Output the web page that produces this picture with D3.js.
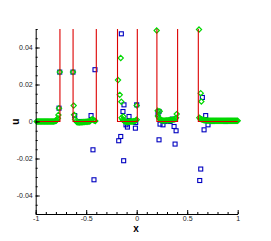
<!DOCTYPE html>
<html>
<head>
<meta charset="utf-8">
<script src="https://cdn.jsdelivr.net/npm/d3@7"></script>
<style>
  html, body { margin: 0; padding: 0; background: #fff; }
  svg { display: block; }
  text { font-family: "Liberation Sans", Arial, sans-serif; }
</style>
</head>
<body>
<svg id="chart" width="271" height="241"></svg>
<script>
// ---- data ----
const xTicks = [-1, -0.5, 0, 0.5, 1];
const xTickLabels = ["-1", "-0.5", "0", "0.5", "1"];
const yTicks = [-0.04, -0.02, 0, 0.02, 0.04];
const yTickLabels = ["-0.04", "-0.02", "0", "0.02", "0.04"];

// exact solution (red line); pulses rise beyond the top of the frame
const redX = [-1, -0.76, -0.76, -0.63, -0.63, -0.40, -0.40, -0.19, -0.19, 0.006, 0.006, 0.20, 0.20, 0.405, 0.405, 0.61, 0.61, 1];
const redY = [0, 0, 0.2, 0.2, 0, 0, 0.2, 0.2, 0, 0, 0.2, 0.2, 0, 0, 0.2, 0.2, 0, 0];

// green diamonds: dense near-zero band
const greenBandX = [
  -0.99, -0.98, -0.97, -0.96, -0.95, -0.94, -0.93, -0.92, -0.91, -0.90, -0.89, -0.88, -0.87, -0.86, -0.85, -0.84, -0.83, -0.82, -0.81, -0.80, -0.79, -0.78, -0.775,
  -0.62, -0.61, -0.60, -0.59, -0.58, -0.57, -0.56, -0.55, -0.54, -0.53, -0.52, -0.51, -0.50, -0.49, -0.48, -0.47, -0.46, -0.45, -0.44, -0.43, -0.42, -0.41,
  -0.15, -0.14, -0.13, -0.12, -0.11, -0.10, -0.09, -0.08, -0.07, -0.06, -0.05, -0.04, -0.03, -0.02, -0.01, 0.0,
  0.21, 0.22, 0.23, 0.24, 0.25, 0.26, 0.27, 0.28, 0.29, 0.30, 0.31, 0.32, 0.33, 0.34, 0.35, 0.36, 0.37, 0.38, 0.39,
  0.62, 0.63, 0.64, 0.65, 0.66, 0.67, 0.68, 0.69, 0.70, 0.71, 0.72, 0.73, 0.74, 0.75, 0.76, 0.77, 0.78, 0.79, 0.80,
  0.81, 0.82, 0.83, 0.84, 0.85, 0.86, 0.87, 0.88, 0.89, 0.90, 0.91, 0.92, 0.93, 0.94, 0.95, 0.96, 0.97, 0.98, 0.99, 1.0
];
const greenBandY = [
  0, 0, 0, 0, 0, 0, 0, 0, 0, 0, 0, 0, 0, 0, 0, 0, 0, 0, 0.0002, 0.0004, 0.0008, 0.0018, 0.0035,
  0.0036, 0.0012, 0.0002, -0.0004, -0.0005, -0.0006, -0.0005, -0.0004, -0.0004, -0.0003, -0.0003, -0.0002, -0.0002, -0.0001, 0, 0, 0.0003, 0.001, 0.0012, 0.0008, 0.0005, 0.0003,
  0.002, 0.001, 0.0005, 0.0002, 0, -0.0003, -0.0002, -0.0001, 0, 0, 0, 0, 0.0001, 0.0002, 0.0005, 0.001,
  0.003, 0.002, 0.0012, 0.0008, 0.0006, 0.0005, 0.0005, 0.0005, 0.0006, 0.0006, 0.0006, 0.0007, 0.0008, 0.0008, 0.0009, 0.001, 0.0011, 0.0013, 0.002,
  0.002, 0.0015, 0.0012, 0.001, 0.0008, 0.0007, 0.0006, 0.0005, 0.0005, 0.0005, 0.0004, 0.0004, 0.0004, 0.0004, 0.0004, 0.0004, 0.0004, 0.0004, 0.0004,
  0.0004, 0.0004, 0.0004, 0.0004, 0.0004, 0.0004, 0.0004, 0.0004, 0.0004, 0.0004, 0.0004, 0.0004, 0.0004, 0.0004, 0.0004, 0.0004, 0.0004, 0.0004, 0.0004, 0.0004
];
// green diamonds: scattered overshoots
const greenX = [-0.769, -0.762, -0.631, -0.624, -0.185, -0.158, -0.168, -0.152, -0.132, 0.0, 0.198, 0.208, 0.228, 0.396, 0.617, 0.634, 0.64];
const greenY = [0.0072, 0.0267, 0.0267, 0.0086, 0.0224, 0.0343, 0.0144, 0.0107, 0.0027, 0.0087, 0.0492, 0.0058, 0.0055, 0.004, 0.0497, 0.0153, 0.0108];

// blue squares
const blueX = [
  -0.90, -0.82, -0.56, -0.48, -0.10, -0.04, 0.28, 0.33, 0.75, 0.88,
  -0.769, -0.762, -0.631, -0.614, -0.452, -0.413, -0.433, -0.423,
  -0.152, -0.126, -0.136, -0.076, -0.092, -0.106, -0.013, -0.158, -0.178, -0.129, 0.0, -0.01,
  0.211, 0.221, 0.231, 0.26, 0.353, 0.37, 0.39, 0.221, 0.38,
  0.65, 0.683, 0.667, 0.706, 0.634, 0.624
];
const blueY = [
  0, 0, 0, 0, 0, 0, 0, 0, 0, 0,
  0.0072, 0.0267, 0.0267, 0.0032, 0.0032, 0.028, -0.0153, -0.0315,
  0.0474, 0.009, 0.0054, 0.0027, -0.003, -0.0018, -0.0036, -0.0081, -0.0104, -0.0212, 0.009, -0.0005,
  0.004, 0.0054, -0.0014, -0.0018, 0.0013, -0.0027, -0.005, -0.0099, -0.0122,
  0.013, 0.0032, -0.0045, -0.0018, -0.0257, -0.0319
];

// ---- drawing ----
const svg = d3.select("#chart");
const x = d3.scaleLinear().domain([-1, 1]).range([35.7, 237.7]);
const y = d3.scaleLinear().domain([-0.05, 0.05]).range([214, 29]);

svg.append("defs").append("clipPath").attr("id", "plotclip")
  .append("rect").attr("x", 30).attr("y", 29).attr("width", 215).attr("height", 186);

// blue squares
svg.append("g").selectAll("rect")
  .data(blueX.map((v, i) => [v, blueY[i]]))
  .join("rect")
  .attr("x", d => x(d[0]) - 2)
  .attr("y", d => y(d[1]) - 2)
  .attr("width", 4)
  .attr("height", 4)
  .attr("fill", "none")
  .attr("stroke", "#0000c0")
  .attr("stroke-width", 1.1);

// green diamonds
const r = 2.6;
const diamond = `M0,${-r}L${r},0L0,${r}L${-r},0Z`;
svg.append("g").selectAll("path")
  .data(greenBandX.map((v, i) => [v, greenBandY[i]]).concat(greenX.map((v, i) => [v, greenY[i]])))
  .join("path")
  .attr("d", diamond)
  .attr("transform", d => `translate(${x(d[0])},${y(d[1])})`)
  .attr("fill", "none")
  .attr("stroke", "#00d800")
  .attr("stroke-width", 1.2);

// exact solution (on top of markers)
const line = d3.line().x(d => x(d[0])).y(d => y(d[1]));
svg.append("path")
  .attr("clip-path", "url(#plotclip)")
  .attr("d", line(redX.map((v, i) => [v, redY[i]])))
  .attr("fill", "none")
  .attr("stroke", "#dd0000")
  .attr("stroke-width", 1.1);

// axes
const fmtX = d => xTickLabels[xTicks.indexOf(d)];
const fmtY = d => yTickLabels[yTicks.indexOf(d)];

const gx = svg.append("g").attr("transform", "translate(0,214)");
gx.call(d3.axisBottom(x).tickValues(xTicks).tickSize(-4).tickSizeOuter(0).tickPadding(2.5).tickFormat(fmtX));
const gxm = svg.append("g").attr("transform", "translate(0,214)");
gxm.call(d3.axisBottom(x).tickValues(d3.range(-10, 11).map(d => d / 10)).tickSize(-2).tickFormat(""));
gxm.select(".domain").remove();

const gy = svg.append("g").attr("transform", "translate(35.7,0)");
gy.call(d3.axisLeft(y).tickValues(yTicks).tickSize(-4).tickSizeOuter(0).tickPadding(3).tickFormat(fmtY));
const gym = svg.append("g").attr("transform", "translate(35.7,0)");
gym.call(d3.axisLeft(y).tickValues(d3.range(-50, 51, 5).map(d => d / 1000)).tickSize(-2).tickFormat(""));
gym.select(".domain").remove();

svg.selectAll(".tick text").attr("font-size", 7).attr("fill", "#222")
  .attr("font-family", "'Liberation Sans', Arial, sans-serif");
svg.selectAll(".domain, .tick line").attr("stroke", "#000").attr("stroke-width", 1);

// axis titles
svg.append("text").attr("x", 136).attr("y", 231.5).attr("text-anchor", "middle")
  .attr("font-size", 10).attr("font-weight", "bold").attr("fill", "#000").text("x");
svg.append("text").attr("transform", "translate(18.5,121.7) rotate(-90)").attr("text-anchor", "middle")
  .attr("font-size", 10).attr("font-weight", "bold").attr("fill", "#000").text("u");
</script>
</body>
</html>
